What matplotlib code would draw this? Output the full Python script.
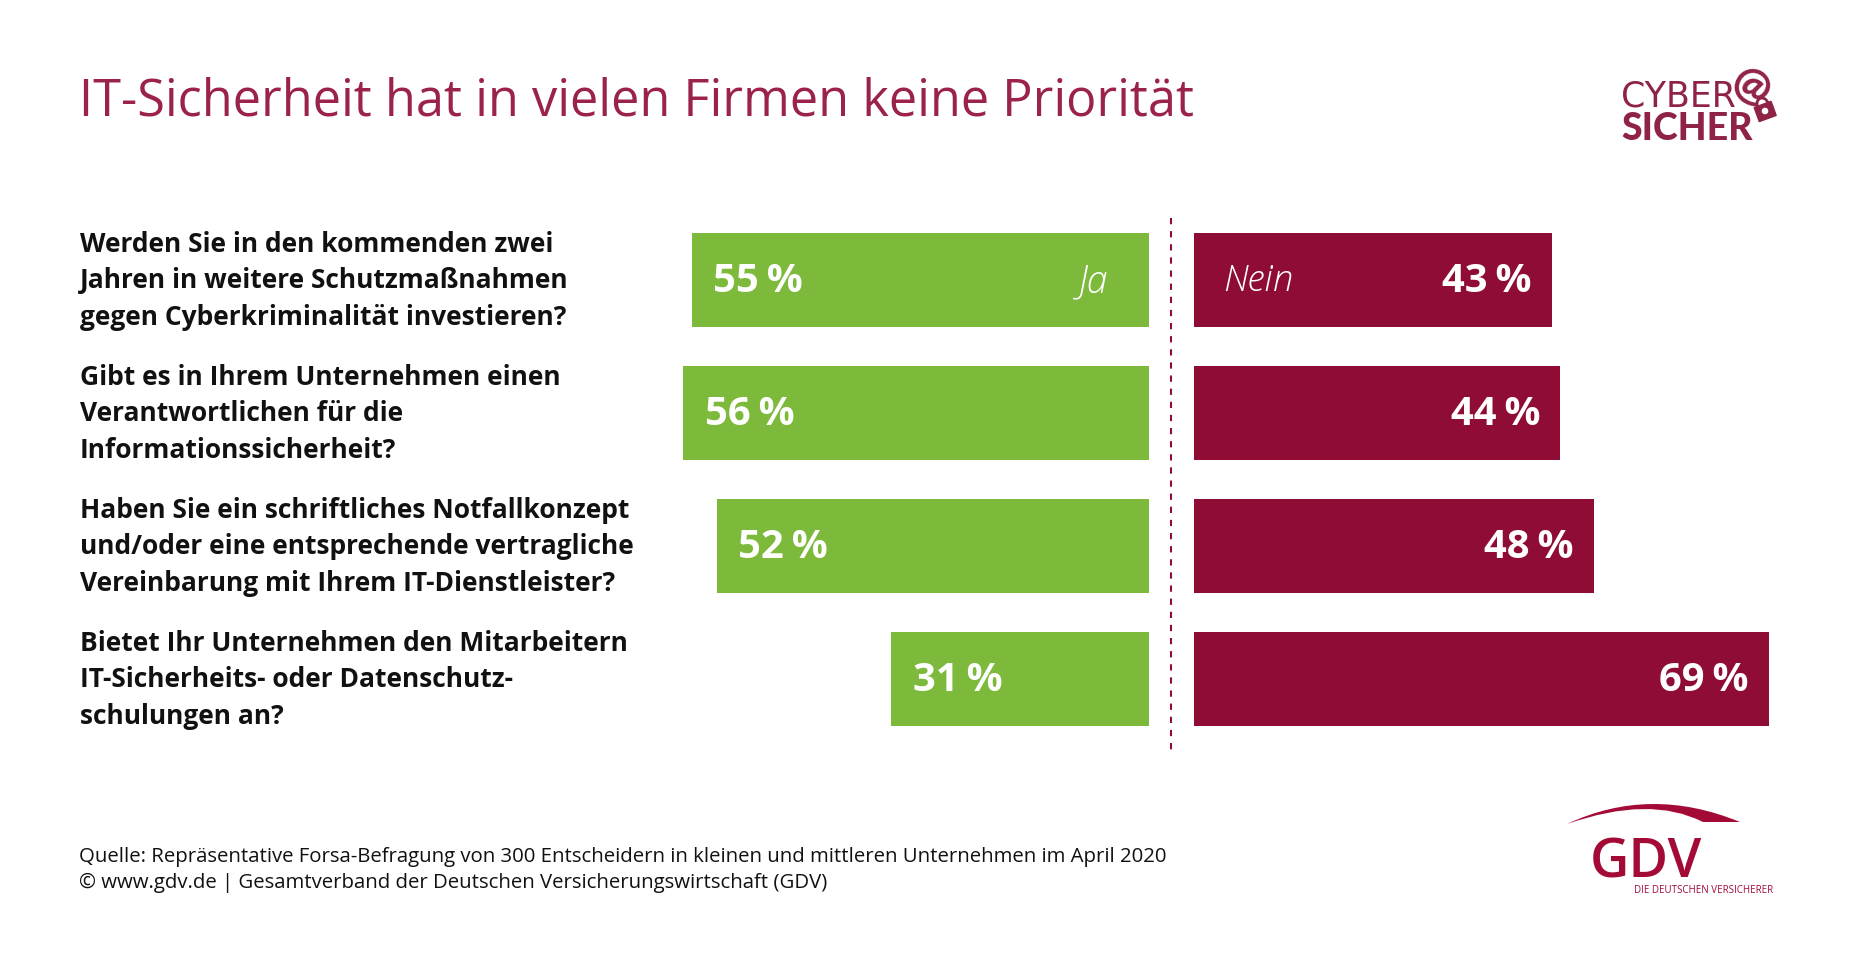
import matplotlib
matplotlib.use('Agg')
import matplotlib.pyplot as plt
from matplotlib.patches import Arc, Circle, PathPatch, Rectangle
from matplotlib.path import Path
from matplotlib.transforms import Affine2D, blended_transform_factory

# Daten
questions = [
    "Werden Sie in den kommenden zwei\nJahren in weitere Schutzmaßnahmen\ngegen Cyberkriminalität investieren?",
    "Gibt es in Ihrem Unternehmen einen\nVerantwortlichen für die\nInformationssicherheit?",
    "Haben Sie ein schriftliches Notfallkonzept\nund/oder eine entsprechende vertragliche\nVereinbarung mit Ihrem IT-Dienstleister?",
    "Bietet Ihr Unternehmen den Mitarbeitern\nIT-Sicherheits- oder Datenschutz-\nschulungen an?",
]
ja = [55, 56, 52, 31]
nein = [43, 44, 48, 69]

title = "IT-Sicherheit hat in vielen Firmen keine Priorität"
source = ("Quelle: Repräsentative Forsa-Befragung von 300 Entscheidern in kleinen und mittleren Unternehmen im April 2020\n"
          "© www.gdv.de | Gesamtverband der Deutschen Versicherungswirtschaft (GDV)")

GREEN = '#7DBA3C'
RED = '#8F0C35'
TITLE_RED = '#9B2248'
LOGO_RED = '#8F2346'
GDV_RED = '#A30B36'

W, H = 1850, 969
FONT = ['Open Sans', 'DejaVu Sans']
plt.rcParams['font.family'] = FONT


def px_axes(fig, left, top, right, bottom):
    return fig.add_axes([left / W, 1 - bottom / H, (right - left) / W, (bottom - top) / H])


fig = plt.figure(figsize=(W / 100, H / 100), dpi=100, facecolor='white')

# Balken
ax_ja = px_axes(fig, 650, 217, 1149, 752)
ax_nein = px_axes(fig, 1194, 217, 1777, 752)
y = list(range(len(questions)))

ax_ja.barh(y, ja, height=0.707, color=GREEN)
ax_nein.barh(y, nein, height=0.707, color=RED)
ax_ja.set_xlim(60, 0)
ax_nein.set_xlim(0, 70)
for ax in (ax_ja, ax_nein):
    ax.set_ylim(3.549, -0.474)
    ax.axis('off')

for i, v in enumerate(ja):
    ax_ja.annotate(f"{v}\u2009%", (v, i), xytext=(15.5, 2), textcoords='offset points',
                   ha='left', va='center_baseline', color='white', fontsize=28.8, fontweight='bold')
for i, v in enumerate(nein):
    ax_nein.annotate(f"{v}\u2009%", (v, i), xytext=(-14.5, 2), textcoords='offset points',
                     ha='right', va='center_baseline', color='white', fontsize=28.8, fontweight='bold')

ax_ja.annotate("Ja", (0, 0), xytext=(-29, 2), textcoords='offset points', ha='right', va='center_baseline',
               color='white', fontsize=27, fontstyle='italic', fontweight='light')
ax_nein.annotate("Nein", (0, 0), xytext=(21, 2), textcoords='offset points', ha='left', va='center_baseline',
                 color='white', fontsize=26.5, fontstyle='italic', fontweight='light')

# Fragen
trans = blended_transform_factory(fig.transFigure, ax_ja.transData)
for i, q in enumerate(questions):
    ax_ja.text(80 / W, i + 0.005, q, transform=trans, ha='left', va='center', fontsize=19,
               fontweight='bold', color='#111111', linespacing=1.45, clip_on=False)

# Rahmen in Pixeln: Titel, Quelle, Trennlinie, Logos
ov = fig.add_axes([0, 0, 1, 1], facecolor='none')
ov.set_xlim(0, W)
ov.set_ylim(H, 0)
ov.axis('off')

ov.text(79, 102, title, ha='left', va='center', fontsize=36.4, color=TITLE_RED)
ov.text(79, 870, source, ha='left', va='center', fontsize=14.7, color='#111111', linespacing=1.36)
ov.plot([1171, 1171], [218, 755], color=RED, lw=1.5, dashes=(3, 3.3))

# CYBER SICHER Logo
ov.text(1621, 93, "CYBER", ha='left', va='center_baseline', fontsize=25, color=LOGO_RED,
        family=['Liberation Sans Narrow', 'DejaVu Sans'])
ov.text(1621, 126, "SICHER", ha='left', va='center_baseline', fontsize=27, color=LOGO_RED,
        family=['Lato', 'DejaVu Sans'], fontweight='black')
ov.text(1750, 87, "@", ha='center', va='center', fontsize=32, color=LOGO_RED, rotation=-30,
        family=['Lato', 'DejaVu Sans'], fontweight='black')
lock_rot = Affine2D().rotate_deg_around(1765, 111, -20) + ov.transData
ov.add_patch(Arc((1765, 104), 11, 13, theta1=180, theta2=360, color=LOGO_RED, lw=2, transform=lock_rot))
ov.add_patch(Rectangle((1756, 104), 18, 15, color=LOGO_RED, transform=lock_rot))
ov.add_patch(Circle((1765, 111), 2.6, color='white', transform=lock_rot))

# GDV Logo
arc = Path([(1567, 824), (1650, 785), (1740, 822), (1703, 822), (1650, 795), (1567, 824)],
           [Path.MOVETO, Path.CURVE3, Path.CURVE3, Path.LINETO, Path.CURVE3, Path.CURVE3])
ov.add_patch(PathPatch(arc, facecolor=GDV_RED, edgecolor='none'))
ov.text(1590, 857, "GDV", ha='left', va='center_baseline', fontsize=39, color=GDV_RED, fontweight='semibold')
ov.text(1634, 889, "DIE DEUTSCHEN VERSICHERER", ha='left', va='center_baseline', fontsize=7.0, color=GDV_RED)

fig.savefig('out.png', dpi=100, facecolor='white')
